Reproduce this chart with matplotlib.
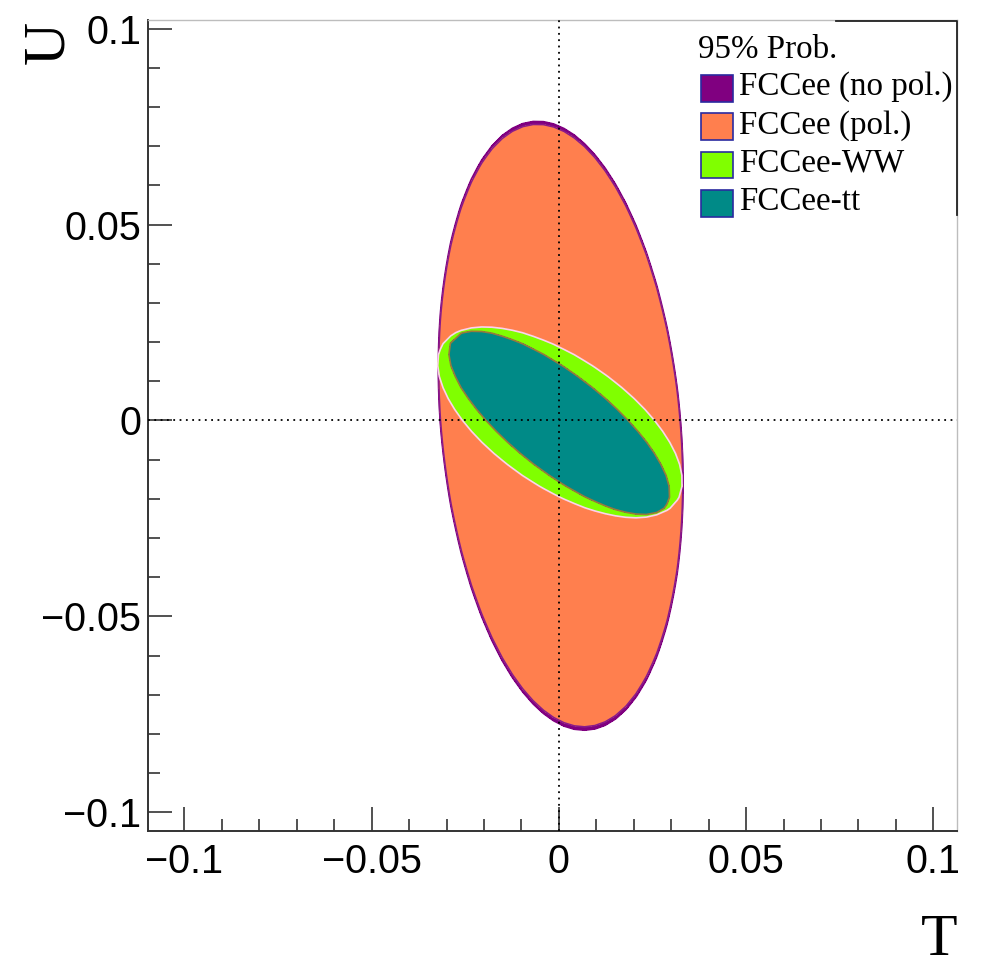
import numpy as np
import matplotlib
matplotlib.use("Agg")
import matplotlib.pyplot as plt
from matplotlib.patches import Rectangle
from matplotlib.lines import Line2D

# ---------------- data ----------------
# 95% probability regions, described as 2D Gaussian ellipses
series = ["FCCee (no pol.)", "FCCee (pol.)", "FCCee-WW", "FCCee-tt"]
center_T = [0.0005, 0.0005, 0.0003, 0.00013]
center_U = [-0.00135, -0.0013, -0.00047, -0.00064]
sigma_T = [0.01336, 0.01332, 0.01336, 0.01207]
sigma_U = [0.03175, 0.03142, 0.00997, 0.00959]
rho_TU = [-0.19, -0.19, -0.62, -0.765]
prob_level = 5.991  # chi2 for 95% in 2 dof

x_ticks = [-0.1, -0.05, 0.0, 0.05, 0.1]
x_tick_labels = ["\u22120.1", "\u22120.05", "0", "0.05", "0.1"]
y_ticks = [-0.1, -0.05, 0.0, 0.05, 0.1]
y_tick_labels = ["\u22120.1", "\u22120.05", "0", "0.05", "0.1"]

fill_colors = ["#800080", "#ff7f4e", "#80ff00", "#008a87"]
edge_colors = ["#800080", "#8a1a8a", "#ffd0ee", "#9a7a3a"]
legend_edge = "#2a2aa0"

# ---------------- figure ----------------
W, H = 981, 958
fig = plt.figure(figsize=(W / 100, H / 100), dpi=100)
fx = lambda px: px / W
fy = lambda py: 1 - py / H

ax = fig.add_axes([fx(148), fy(830.7), fx(957) - fx(148), fy(20) - fy(830.7)])
ax.set_xlim(-0.1097, 0.1063)
ax.set_ylim(-0.1047, 0.1022)

# histogram-like grid (bin centres)
tb = np.linspace(-0.11, 0.11, 81)
ub = np.linspace(-0.105, 0.105, 76)
tc = 0.5 * (tb[1:] + tb[:-1])
uc = 0.5 * (ub[1:] + ub[:-1])
TT, UU = np.meshgrid(tc, uc)

for i in range(len(series)):
    dT = (TT - center_T[i]) / sigma_T[i]
    dU = (UU - center_U[i]) / sigma_U[i]
    r = rho_TU[i]
    chi2 = (dT ** 2 - 2 * r * dT * dU + dU ** 2) / (1 - r ** 2)
    ax.contourf(TT, UU, chi2, levels=[-1, prob_level], colors=[fill_colors[i]], zorder=2 + i)
    ax.contour(TT, UU, chi2, levels=[prob_level], colors=[edge_colors[i]],
               linewidths=1.2, zorder=2.5 + i)

# dotted zero lines
ax.axvline(0, color="black", ls=(0, (1, 2.5)), lw=1.3, zorder=10)
ax.axhline(0, color="black", ls=(0, (1, 2.5)), lw=1.3, zorder=10)

# axes styling
for s in ["left", "bottom"]:
    ax.spines[s].set_color("#333333")
    ax.spines[s].set_linewidth(1.4)
for s in ["top", "right"]:
    ax.spines[s].set_color("#bdbdbd")
    ax.spines[s].set_linewidth(1.0)

ax.set_xticks(x_ticks)
ax.set_xticklabels(x_tick_labels)
ax.set_yticks(y_ticks)
ax.set_yticklabels(y_tick_labels)
ax.set_xticks(np.arange(-0.1, 0.1001, 0.01), minor=True)
ax.set_yticks(np.arange(-0.1, 0.1001, 0.01), minor=True)
ax.tick_params(which="major", direction="in", length=17.5, width=1.1, color="#222222",
               top=False, right=False, labelsize=28.5)
ax.tick_params(which="minor", direction="in", length=8.8, width=1.1, color="#222222",
               top=False, right=False)
ax.tick_params(axis="x", which="major", pad=9)
ax.tick_params(axis="y", which="major", pad=5)
for lab in ax.get_xticklabels() + ax.get_yticklabels():
    lab.set_fontfamily("Liberation Sans")

# axis titles
fig.text(fx(957), fy(955), "T", family="Liberation Serif", fontsize=43,
         ha="right", va="baseline")
fig.text(fx(63.3), fy(20.7), "U", family="Liberation Serif", fontsize=43,
         ha="right", va="baseline", rotation=90, rotation_mode="anchor")

# legend (drawn manually in figure pixels)
fig.text(fx(698), fy(58.3), "95% Prob.", family="Liberation Serif", fontsize=23.8,
         ha="left", va="baseline")
row_c = [88.3, 126.7, 165.0, 203.5]
for i, name in enumerate(series):
    c = row_c[i]
    fig.patches.append(Rectangle((fx(701), fy(c + 13.3)), fx(733) - fx(701),
                                 fy(c - 13.3) - fy(c + 13.3), transform=fig.transFigure,
                                 facecolor=fill_colors[i], edgecolor=legend_edge, lw=1.2))
    fig.text(fx(739), fy(c + 6.8), name, family="Liberation Serif", fontsize=23.8,
             ha="left", va="baseline")

# visible part of legend border
fig.lines.append(Line2D([fx(836), fx(956.5), fx(956.5)], [fy(20.5), fy(20.5), fy(215)],
                        transform=fig.transFigure, color="#222222", lw=1.3))

fig.savefig("out.png", dpi=100)
